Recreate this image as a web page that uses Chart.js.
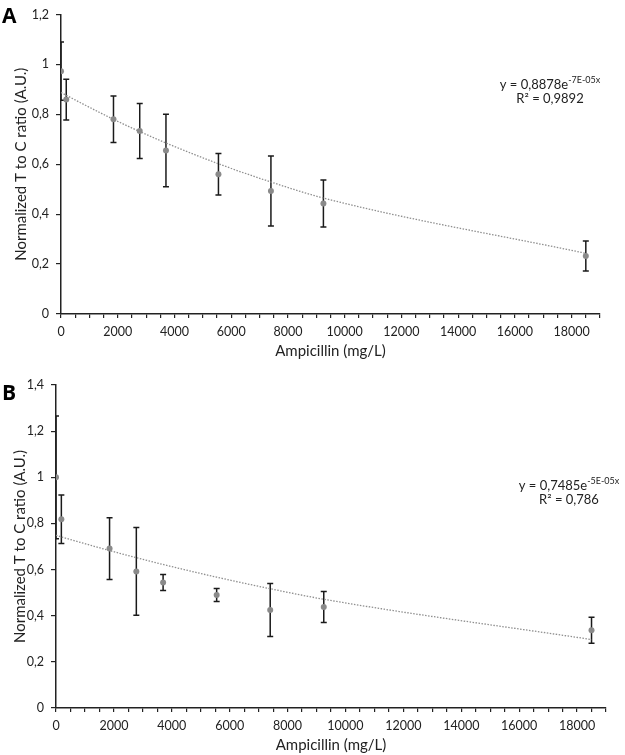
<!DOCTYPE html>
<html>
<head>
<meta charset="utf-8">
<script src="https://cdn.jsdelivr.net/npm/chart.js@4.4.0/dist/chart.umd.min.js"></script>
<style>
  html, body { margin: 0; padding: 0; background: #fff; }
  #wrap { position: relative; width: 625px; height: 755px; }
  #cA { position: absolute; left: 0; top: 0; }
  #cB { position: absolute; left: 0; top: 365px; }
</style>
</head>
<body>
<div id="wrap">
  <canvas id="cA" width="625" height="365"></canvas>
  <canvas id="cB" width="625" height="390"></canvas>
</div>
<script>
// ---- Data ----
const ampicillin = [0, 185, 1850, 2775, 3700, 5550, 7400, 9250, 18500];
const meanA = [0.973, 0.859, 0.780, 0.733, 0.655, 0.560, 0.493, 0.443, 0.232];
const errA  = [0.117, 0.082, 0.093, 0.110, 0.145, 0.083, 0.140, 0.094, 0.060];
const meanB = [1.000, 0.818, 0.691, 0.592, 0.544, 0.490, 0.425, 0.438, 0.337];
const errB  = [0.266, 0.105, 0.134, 0.190, 0.035, 0.028, 0.115, 0.067, 0.056];
const fitA = { a: 0.8878, b: -7e-5, label1: 'y = 0,8878e', sup: '-7E-05x', label2: 'R² = 0,9892' };
const fitB = { a: 0.7485, b: -5e-5, label1: 'y = 0,7485e', sup: '-5E-05x', label2: 'R² = 0,786' };
const xTitle = 'Ampicillin (mg/L)';
const yTitle = 'Normalized T to C ratio (A.U.)';

const FONT = 'Lato, "Open Sans", sans-serif';
const AXIS = '#222';

function fmt(v) {
  return (Math.round(v * 10) / 10).toString().replace('.', ',');
}

function makeChart(id, mean, err, fit, cfg) {
  const pts = ampicillin.map((x, i) => ({ x: x, y: mean[i] }));
  const trend = ampicillin.map(x => ({ x: x, y: fit.a * Math.exp(fit.b * x) }));

  const errorBars = {
    id: 'errorBars',
    beforeDatasetsDraw(chart) {
      const ctx = chart.ctx, xs = chart.scales.x, ys = chart.scales.y;
      const area = chart.chartArea;
      ctx.save();
      ctx.beginPath();
      ctx.rect(area.left, area.top - 1, area.right - area.left + 2, area.bottom - area.top + 2);
      ctx.clip();
      ctx.strokeStyle = '#1a1a1a';
      ctx.lineWidth = 1.5;
      ampicillin.forEach((x, i) => {
        const px = xs.getPixelForValue(x);
        const top = ys.getPixelForValue(mean[i] + err[i]);
        const bot = ys.getPixelForValue(mean[i] - err[i]);
        ctx.beginPath();
        ctx.moveTo(px, top); ctx.lineTo(px, bot);
        ctx.moveTo(px - 3, top); ctx.lineTo(px + 3, top);
        ctx.moveTo(px - 3, bot); ctx.lineTo(px + 3, bot);
        ctx.stroke();
      });
      ctx.restore();
    },
    afterDraw(chart) {
      const ctx = chart.ctx;
      ctx.save();
      // Panel letter
      ctx.fillStyle = '#000';
      ctx.font = 'bold 21px "Open Sans", sans-serif';
      ctx.textBaseline = 'alphabetic';
      ctx.textAlign = 'left';
      ctx.fillText(cfg.letter, cfg.letterX, cfg.letterY);
      // Equation
      ctx.fillStyle = '#222';
      ctx.font = '13px ' + FONT;
      const w1 = ctx.measureText(fit.label1).width;
      ctx.font = '9px ' + FONT;
      const w2 = ctx.measureText(fit.sup).width;
      const total = w1 + w2;
      const sx = cfg.eqX - total / 2;
      ctx.font = '13px ' + FONT;
      ctx.textBaseline = 'middle';
      ctx.fillText(fit.label1, sx, cfg.eqY);
      ctx.font = '9px ' + FONT;
      ctx.fillText(fit.sup, sx + w1, cfg.eqY - 5);
      ctx.font = '13px ' + FONT;
      ctx.textAlign = 'center';
      ctx.fillText(fit.label2, cfg.eqX, cfg.eqY + 14);
      ctx.restore();
    }
  };

  return new Chart(document.getElementById(id), {
    type: 'scatter',
    data: {
      datasets: [
        {
          data: pts,
          showLine: false,
          pointRadius: 3,
          pointHoverRadius: 3,
          pointBackgroundColor: '#8a8a8a',
          pointBorderColor: '#8a8a8a',
          pointBorderWidth: 0,
          order: 1
        },
        {
          data: trend,
          showLine: true,
          pointRadius: 0,
          borderColor: '#8f8f8f',
          borderWidth: 1.3,
          borderDash: [1.5, 1.5],
          cubicInterpolationMode: 'monotone',
          fill: false,
          order: 2
        }
      ]
    },
    options: {
      responsive: false,
      animation: false,
      devicePixelRatio: 1,
      layout: { padding: { top: cfg.padTop, right: cfg.padRight, left: 0, bottom: 0 } },
      plugins: { legend: { display: false }, tooltip: { enabled: false } },
      scales: {
        x: {
          type: 'linear',
          min: 0, max: 19000,
          afterFit(s) { s.height = cfg.xHeight; },
          afterBuildTicks(s) {
            const t = [];
            for (let v = 0; v <= 19000; v += 500) t.push({ value: v });
            s.ticks = t;
          },
          ticks: {
            autoSkip: false, maxRotation: 0, minRotation: 0,
            padding: 6,
            color: '#222',
            font: { family: FONT, size: 12.5 },
            callback: v => (v % 2000 === 0 ? String(v) : '')
          },
          grid: { drawOnChartArea: false, tickLength: 4, color: AXIS, lineWidth: 1.2 },
          border: { display: true, color: AXIS, width: 1.5 },
          title: {
            display: true, text: xTitle, color: '#222',
            font: { family: FONT, size: 15 },
            padding: { top: 0, bottom: cfg.xTitlePad }
          }
        },
        y: {
          type: 'linear',
          min: 0, max: cfg.yMax,
          afterFit(s) { s.width = cfg.yWidth; },
          ticks: {
            stepSize: 0.2,
            padding: 7,
            color: '#222',
            font: { family: FONT, size: 12.5 },
            callback: v => fmt(v)
          },
          grid: { drawOnChartArea: false, tickLength: 5, color: AXIS, lineWidth: 1.2 },
          border: { display: true, color: AXIS, width: 1.5 },
          title: {
            display: true, text: yTitle, color: '#222',
            font: { family: FONT, size: 15 },
            padding: { top: cfg.yTitlePad, bottom: 0 }
          }
        }
      }
    },
    plugins: [errorBars]
  });
}

makeChart('cA', meanA, errA, fitA, {
  letter: 'A', letterX: 2, letterY: 23,
  eqX: 550, eqY: 85,
  padTop: 7, padRight: 25, xHeight: 51, yWidth: 61, yMax: 1.2,
  xTitlePad: 5, yTitlePad: 12
});
makeChart('cB', meanB, errB, fitB, {
  letter: 'B', letterX: 2, letterY: 35,
  eqX: 569, eqY: 121,
  padTop: 20, padRight: 19, xHeight: 47, yWidth: 56, yMax: 1.4,
  xTitlePad: 1, yTitlePad: 11
});
</script>
</body>
</html>
